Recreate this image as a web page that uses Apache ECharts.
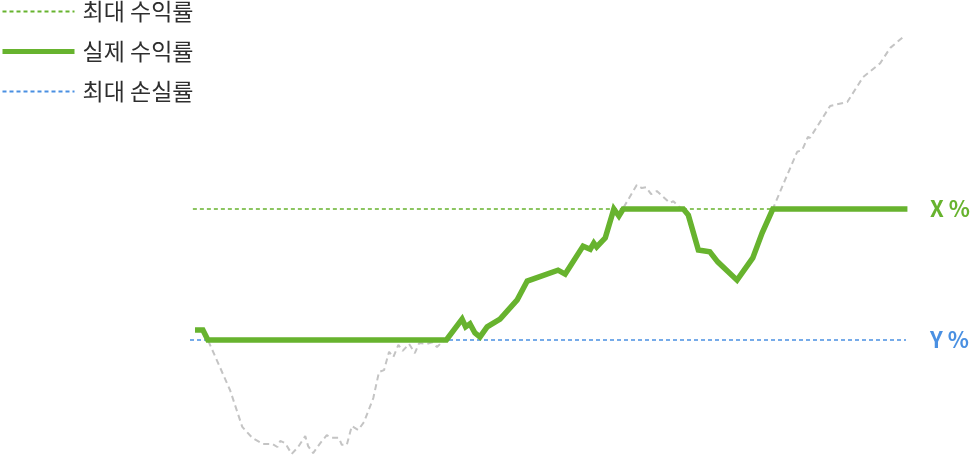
<!DOCTYPE html>
<html>
<head>
<meta charset="utf-8">
<script src="https://cdn.jsdelivr.net/npm/echarts@6/dist/echarts.min.js"></script>
<style>
html,body{margin:0;padding:0;background:#fff;}
#chart{width:972px;height:456px;}
</style>
</head>
<body>
<div id="chart"></div>
<script>
// Underlying asset path (time index 0..100, return units; 0 = Y%, 30 = X%)
const assetT = [0.7,1.8,2.5,5.6,7.3,8.7,10.2,11.5,12.2,12.6,13.3,14.2,15.1,16.1,16.5,17.2,18.2,19.1,19.8,20.8,21.2,21.9,22.6,23.5,24.3,25.6,26.4,27.1,27.8,28.4,29.1,29.7,30.6,31.4,32.0,33.1,33.8,34.5,35.2,35.8,38.0,38.5,39.1,39.8,40.5,41.5,43.3,45.7,47.1,51.4,52.4,54.9,55.9,56.4,56.8,58.0,59.2,59.9,60.5,62.4,63.1,63.7,64.4,65.2,67.0,67.5,68.3,68.9,69.6,71.0,72.6,73.7,76.4,78.6,79.9,81.4,83.1,84.8,85.5,86.3,86.6,89.4,91.8,94.0,96.4,97.8,99.9];
const assetV = [2.3,2.3,0,-11.5,-19.9,-22.4,-23.8,-23.8,-24.5,-23.1,-23.6,-26.1,-24.5,-22.0,-24.3,-25.9,-23.6,-21.8,-22.4,-22.4,-24.0,-24.0,-19.7,-20.6,-18.8,-13.3,-7.3,-6.9,-2.7,-3.9,-1.1,-2.5,-0.9,-3.0,-0.7,-0.9,-0.5,-1.6,-0.5,0,4.8,3.0,3.7,1.6,0.7,3.0,4.8,9.2,13.5,16.0,15.1,21.5,20.8,22.2,21.3,23.4,30.0,28.4,30.2,35.5,34.8,35.0,33.4,34.1,31.4,31.8,30.5,30.0,28.6,20.6,20.2,17.9,13.7,18.8,24.5,30.0,36.6,43.1,43.5,46.5,46.3,53.6,54.5,60.2,63.4,66.9,69.8];

// Actual return (실제 수익률)
const actualT = [0.7,1.8,2.5,35.8,38.0,38.5,39.1,39.8,40.5,41.5,43.3,45.7,47.1,51.4,52.4,54.9,55.9,56.4,56.8,58.0,59.2,59.9,60.5,68.9,69.6,71.0,72.6,73.7,76.4,78.6,79.9,81.4,100.2];
const actualV = [2.3,2.3,0,0,4.8,3.0,3.7,1.6,0.7,3.0,4.8,9.2,13.5,16.0,15.1,21.5,20.8,22.2,21.3,23.4,30.0,28.4,30.0,30.0,28.6,20.6,20.2,17.9,13.7,18.8,24.5,30.0,30.0];

// Levels
const maxGain = 30;   // X %
const maxLoss = 0;    // Y %
const maxGainSpan = [0.4, 100];
const maxLossSpan = [0, 100];

const names = ['최대 수익률', '실제 수익률', '최대 손실률'];
const levelLabels = ['X %', 'Y %'];

const GREEN = '#67b32e';
const BLUE = '#4a90e2';
const GRAY = '#c4c4c4';

const zip = (a, b) => a.map((x, i) => [x, b[i]]);

const chart = echarts.init(document.getElementById('chart'));
chart.setOption({
  animation: false,
  backgroundColor: '#ffffff',
  textStyle: { fontFamily: 'Noto Sans CJK KR' },
  legend: {
    orient: 'vertical',
    left: 0,
    top: 0,
    padding: 0,
    itemWidth: 72,
    itemHeight: 14,
    itemGap: 17,
    selectedMode: false,
    itemStyle: { opacity: 0 },
    data: [
      { name: names[0], lineStyle: { width: 2 } },
      { name: names[1], lineStyle: { width: 5 } },
      { name: names[2], lineStyle: { width: 2 } }
    ],
    textStyle: { fontSize: 23, color: '#2e2e2e', lineHeight: 23, padding: [0, 0, 0, 3], fontFamily: 'Noto Sans CJK KR' }
  },
  grid: { left: 190, width: 716, top: 34.33, height: 421.4 },
  xAxis: { type: 'value', min: 0, max: 100, show: false },
  yAxis: { type: 'value', min: -26.5, max: 70, show: false },
  series: [
    {
      name: '기초자산',
      type: 'line',
      data: zip(assetT, assetV),
      symbol: 'none',
      lineStyle: { color: GRAY, width: 2, type: [6, 4] },
      z: 1
    },
    {
      name: names[0],
      type: 'line',
      data: [[maxGainSpan[0], maxGain], [maxGainSpan[1], maxGain]],
      symbol: 'none',
      color: GREEN,
      lineStyle: { color: GREEN, width: 1.5, type: [4, 3] },
      endLabel: { show: true, formatter: levelLabels[0], distance: 24, color: GREEN, fontSize: 22, fontWeight: 'bold', fontFamily: 'Noto Sans CJK KR' },
      z: 2
    },
    {
      name: names[2],
      type: 'line',
      data: [[maxLossSpan[0], maxLoss], [maxLossSpan[1], maxLoss]],
      symbol: 'none',
      color: BLUE,
      lineStyle: { color: BLUE, width: 1.5, type: [4, 3] },
      endLabel: { show: true, formatter: levelLabels[1], distance: 24, color: BLUE, fontSize: 22, fontWeight: 'bold', fontFamily: 'Noto Sans CJK KR' },
      z: 2
    },
    {
      name: names[1],
      type: 'line',
      data: zip(actualT, actualV),
      symbol: 'none',
      color: GREEN,
      lineStyle: { color: GREEN, width: 5.5, join: 'miter' },
      z: 3
    }
  ]
});
</script>
</body>
</html>
